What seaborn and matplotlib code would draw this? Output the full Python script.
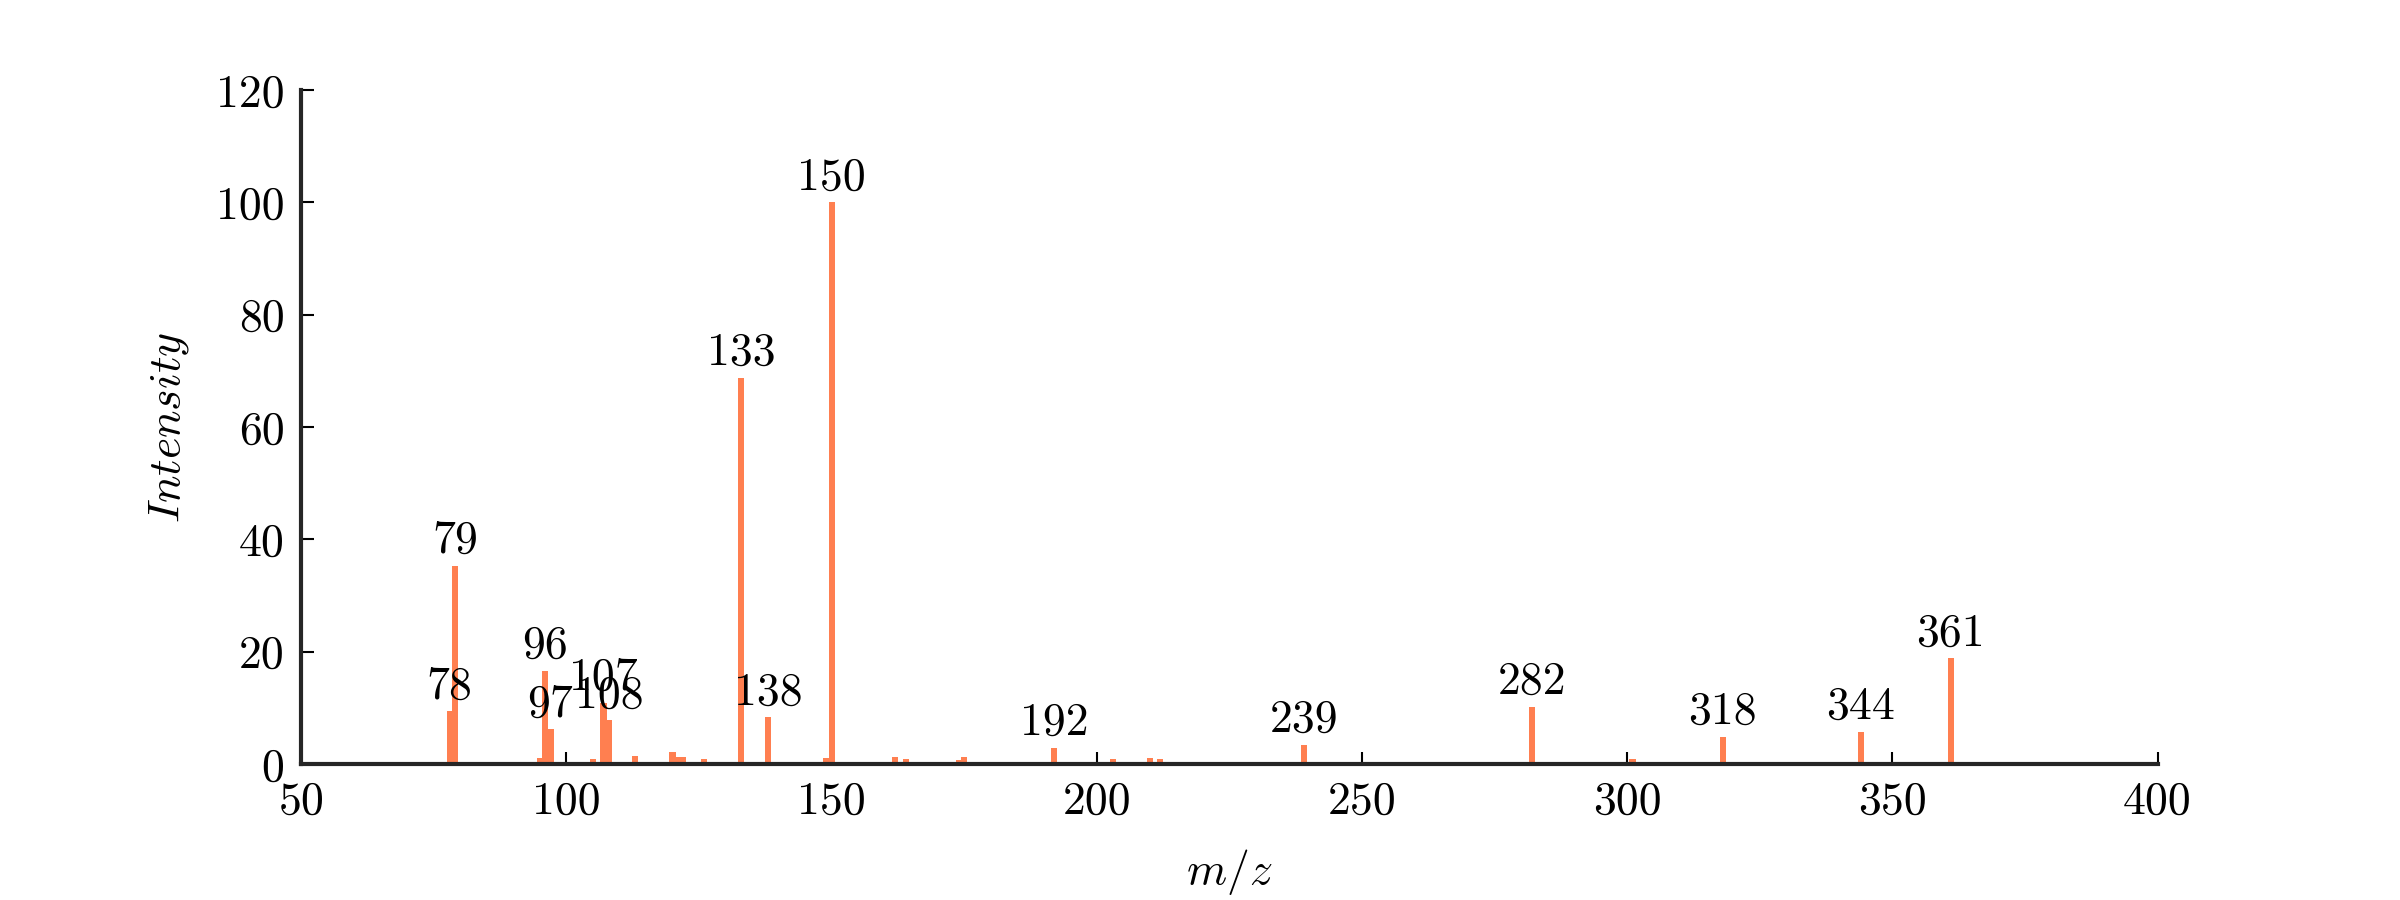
import matplotlib
matplotlib.use('Agg')

import pandas as pd

import matplotlib.pyplot as plt

import seaborn as sns

# peaks
MZ = [78, 79, 95, 96, 97, 105, 107, 108, 113, 120, 121, 122, 126,
      133, 138, 149, 150, 162, 164, 174, 175, 192, 203, 210, 212,
      239, 282, 301, 318, 344, 361]
INTENSITY = [9.4, 35.3, 1.0, 16.6, 6.2, 0.9, 10.9, 7.8, 1.5, 2.1, 1.3, 1.3, 0.9,
             68.7, 8.3, 1.0, 100.0, 1.3, 0.9, 0.8, 1.3, 2.9, 0.9, 1.1, 0.9,
             3.4, 10.2, 0.9, 4.9, 5.8, 18.8]
LABEL_MIN = 2.5

X_TICKS = [50, 100, 150, 200, 250, 300, 350, 400]
Y_TICKS = [0, 20, 40, 60, 80, 100, 120]

BAR_COLOR = '#ff7f50'
FONT_SIZE = 22


def setup_style():
    sns.set_theme(style='ticks')
    plt.rcParams['font.family'] = ['cmr10', 'DejaVu Serif']
    plt.rcParams['mathtext.fontset'] = 'cm'
    plt.rcParams['axes.formatter.use_mathtext'] = True
    plt.rcParams['axes.edgecolor'] = '#262626'
    plt.rcParams['axes.linewidth'] = 2.0


def spectrum(df):
    fig = plt.figure(figsize=(16, 6), dpi=150)
    fig.subplots_adjust(left=0.1255, right=0.899, bottom=0.151, top=0.9)
    ax = fig.add_subplot(111)
    sns.barplot(data=df, x='mz', y='intensity', native_scale=True,
                width=1.15, color=BAR_COLOR, saturation=1,
                errorbar=None, linewidth=0, ax=ax, zorder=1)

    for mz, inten in zip(df['mz'], df['intensity']):
        if inten > LABEL_MIN:
            ax.text(mz, inten + 2.3, str(mz), ha='center', va='baseline',
                    fontsize=FONT_SIZE, color='black')

    ax.set_xlim(X_TICKS[0], X_TICKS[-1])
    ax.set_ylim(Y_TICKS[0], Y_TICKS[-1])
    ax.set_xticks(X_TICKS)
    ax.set_xticklabels([str(t) for t in X_TICKS])
    ax.set_yticks(Y_TICKS)
    ax.set_yticklabels([str(t) for t in Y_TICKS])
    ax.tick_params(direction='in', length=6, width=1.0, color='black',
                   labelsize=FONT_SIZE, labelcolor='black')
    ax.tick_params(axis='x', pad=8)
    ax.tick_params(axis='y', pad=8)
    sns.despine(ax=ax)
    for side in ['left', 'bottom']:
        ax.spines[side].set_zorder(3)

    ax.set_xlabel('$m/z$', fontsize=FONT_SIZE, labelpad=12, color='black')
    ax.set_ylabel('$Intensity$', fontsize=FONT_SIZE, labelpad=12,
                  color='black')
    fig.savefig('out.png', dpi=150)


def main():
    setup_style()
    df = pd.DataFrame({'mz': MZ, 'intensity': INTENSITY})
    spectrum(df)


if __name__ == '__main__':
    main()
